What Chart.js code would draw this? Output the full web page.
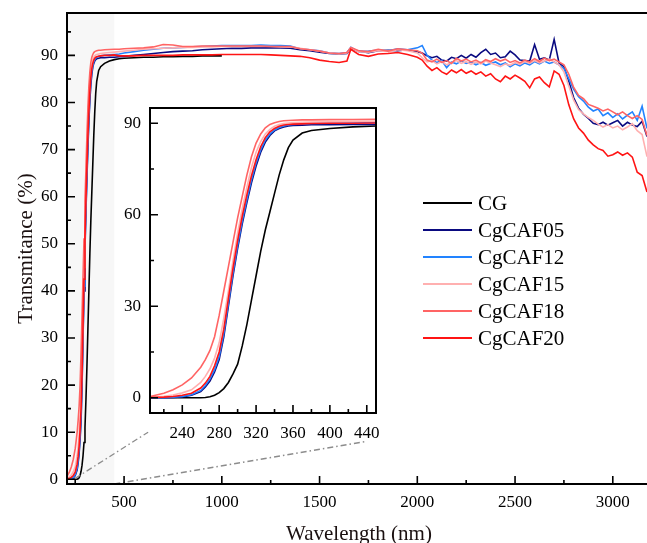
<!DOCTYPE html>
<html>
<head>
<meta charset="utf-8">
<script src="https://cdn.jsdelivr.net/npm/chart.js@4.4.0/dist/chart.umd.min.js"></script>
<style>
  html, body { margin: 0; padding: 0; background: #fff; }
  #wrap { position: relative; width: 647px; height: 543px; overflow: hidden; }
  #main { position: absolute; left: 0; top: 0; }
  #inset { position: absolute; left: 95px; top: 98px; }
</style>
</head>
<body>
<div id="wrap">
  <canvas id="main" width="647" height="543"></canvas>
  <canvas id="inset" width="295" height="352"></canvas>
</div>
<script>
const seriesNames = ['CG', 'CgCAF05', 'CgCAF12', 'CgCAF15', 'CgCAF18', 'CgCAF20'];
const seriesColors = ['#000000', '#0a0a80', '#2283ff', '#ffb0b0', '#ff6464', '#ff1414'];

// UV edge (also shown in the inset)
const uvWavelength = [205, 220, 230, 240, 250, 260, 265, 270, 275, 280, 285, 290, 295, 300, 305, 310,
  315, 320, 325, 330, 335, 340, 345, 350, 355, 360, 370, 380, 400, 425, 450];
const uvCG      = [0, 0, 0, 0, 0, 0, 0.1, 0.3, 0.8, 1.7, 3, 5, 7.8, 11, 17, 24,
  32, 40, 48, 55, 61, 67, 73, 78, 82, 84.5, 86.8, 87.6, 88.3, 88.8, 89.1];
const uvCgCAF05 = [0, 0, 0.1, 0.3, 0.8, 2, 3.5, 5.5, 8.5, 12.5, 20, 30, 40, 49, 57, 64,
  70.5, 76, 80.5, 83.8, 86, 87.5, 88.3, 88.8, 89.1, 89.3, 89.4, 89.5, 89.5, 89.6, 89.6];
const uvCgCAF12 = [0, 0.05, 0.15, 0.4, 1, 2.4, 4, 6.2, 9.2, 13.5, 21, 31, 41, 50, 58, 65,
  71.5, 77, 81.3, 84.5, 86.5, 87.8, 88.6, 89.1, 89.4, 89.6, 89.8, 89.9, 90.0, 90.1, 90.2];
const uvCgCAF15 = [0.2, 0.5, 0.9, 1.6, 2.6, 5, 7, 9.5, 13, 18, 26, 35, 45, 54, 62, 69,
  75.5, 80.5, 84, 86.5, 88, 89, 89.6, 89.9, 90.1, 90.2, 90.3, 90.4, 90.5, 90.6, 90.7];
const uvCgCAF18 = [0.4, 1.5, 2.6, 4.2, 6.5, 10, 12.5, 15.5, 20, 27, 35, 43, 51, 59, 66, 73,
  79, 83.5, 86.5, 88.5, 89.6, 90.2, 90.6, 90.8, 90.9, 91.0, 91.1, 91.1, 91.2, 91.25, 91.3];
const uvCgCAF20 = [0.1, 0.2, 0.4, 0.8, 1.5, 3.2, 4.8, 7, 10.5, 15, 22.5, 32.5, 42.5, 51.5, 59.5, 66.5,
  72.8, 78, 82.3, 85.3, 87.2, 88.3, 89, 89.4, 89.6, 89.7, 89.8, 89.9, 90.0, 90.0, 90.1];

// visible / near infrared
const nirWavelength = [
  475, 500, 550, 600, 650, 700, 750, 800, 850, 900, 950, 1000,
  1050, 1100, 1150, 1200, 1250, 1300, 1350, 1400, 1450, 1500, 1550, 1600,
  1640, 1660,
  1700, 1750, 1800, 1850, 1900, 1950, 2000,
  2025, 2050, 2075, 2100, 2125, 2150, 2175, 2200, 2225, 2250, 2275, 2300,
  2325, 2350, 2375, 2400, 2425, 2450, 2475, 2500, 2525, 2550, 2575, 2600,
  2625, 2650, 2675, 2700, 2725, 2750, 2775, 2800, 2825, 2850, 2875, 2900,
  2925, 2950, 2975, 3000, 3025, 3050, 3075, 3100, 3125, 3150, 3175];
const nirCG = [89.3, 89.4, 89.5, 89.6, 89.6, 89.7, 89.7, 89.8, 89.8, 89.9, 89.9, 89.9];
const nirCgCAF05 = [
  89.7, 89.8, 90.0, 90.2, 90.4, 90.6, 90.8, 90.9, 91.0, 91.2, 91.3, 91.4,
  91.5, 91.5, 91.6, 91.6, 91.6, 91.6, 91.5, 91.2, 91.0, 90.7, 90.4, 90.3,
  90.4, 91.5,
  90.9, 90.6, 91.0, 91.1, 91.0, 91.2, 90.8,
  90.5, 89.9, 89.5, 89.8, 89.0, 88.8, 89.6, 89.3, 90.0, 89.4, 90.2, 89.6,
  90.6, 91.3, 90.2, 90.5, 89.5, 89.7, 90.9, 90.1, 89.0, 88.9, 88.8, 92.3,
  89.2, 89.5, 89.0, 93.4, 88.4, 87.6, 84.5, 81.0, 78.8, 77.5, 76.6, 75.6,
  75.3, 75.8, 75.2, 75.7, 76.2, 75.0, 75.8, 75.2, 74.9, 76.0, 72.8];
const nirCgCAF12 = [
  90.3, 90.5, 90.8, 91.1, 91.3, 91.5, 91.6, 91.7, 91.8, 91.9, 92.0, 92.1,
  92.1, 92.1, 92.1, 92.2, 92.1, 92.1, 92.0, 91.4, 91.2, 91.0, 90.5, 90.4,
  90.6, 91.7,
  90.8, 90.9, 91.1, 91.0, 91.4, 91.2, 91.6,
  92.1, 90.0, 89.0, 88.5, 88.9, 87.4, 88.6, 88.2, 88.8, 88.3, 88.6, 88.0,
  88.5, 87.9, 88.3, 88.6, 88.0, 88.4, 87.6, 88.2, 87.8, 88.4, 88.0, 88.7,
  88.2, 88.8, 88.3, 88.6, 88.0, 87.2, 85.0, 82.8, 81.2, 80.3, 79.0, 78.2,
  78.6, 77.2, 77.8, 76.8, 77.6, 76.5, 77.3, 78.0, 76.2, 79.2, 74.5];
const nirCgCAF15 = [
  90.8, 90.9, 91.1, 91.3, 91.4, 91.5, 91.6, 91.7, 91.7, 91.8, 91.8, 91.9,
  91.9, 91.9, 91.9, 91.9, 91.9, 91.8, 91.8, 91.5, 91.2, 90.9, 90.5, 90.3,
  90.5, 91.6,
  90.8, 90.7, 91.0, 90.8, 91.2, 91.0, 90.5,
  89.5, 88.6, 88.9, 88.2, 88.7, 88.0, 88.5, 88.9, 88.3, 88.7, 88.1, 88.6,
  88.2, 88.8, 88.4, 88.0, 87.6, 88.2, 87.9, 88.5, 88.1, 88.7, 88.3, 88.9,
  88.4, 88.8, 89.2, 88.6, 88.0, 86.5, 83.5, 80.5, 78.5, 77.6, 76.8, 76.2,
  75.4, 74.8, 75.3, 74.6, 75.0, 74.2, 74.8, 75.5, 74.0, 73.2, 68.5];
const nirCgCAF18 = [
  91.3, 91.4, 91.5, 91.6, 91.8, 92.3, 92.2, 91.9, 91.9, 92.0, 92.0, 92.0,
  92.0, 92.0, 92.0, 92.0, 91.9, 91.9, 91.9, 91.4, 91.2, 90.9, 90.5, 90.4,
  90.6, 91.7,
  91.0, 90.8, 91.3, 90.9, 91.4, 91.2, 91.0,
  90.5, 89.0, 88.6, 89.2, 88.5, 88.9, 88.3, 89.4, 88.8, 89.2, 88.6, 89.0,
  88.4, 89.1, 88.7, 89.3, 88.8, 89.2, 88.5, 88.9, 88.4, 89.0, 88.6, 89.3,
  88.7, 89.4, 88.9, 89.2, 88.6, 88.0, 86.0, 83.2, 81.5, 80.8, 79.6, 79.2,
  78.8, 78.2, 78.6, 78.0, 77.4, 78.0, 77.2, 76.6, 77.2, 76.4, 73.0];
const nirCgCAF20 = [
  89.9, 89.9, 89.9, 90.0, 90.0, 90.0, 90.0, 90.1, 90.1, 90.1, 90.1, 90.2,
  90.2, 90.2, 90.2, 90.2, 90.1, 90.0, 89.9, 89.8, 89.5, 89.0, 88.7, 88.5,
  88.8, 91.3,
  90.2, 89.8, 90.3, 90.4, 90.6, 90.2, 89.6,
  89.0, 87.7, 86.8, 87.4, 86.5, 86.0, 86.9, 86.3, 87.0, 86.2, 86.7, 86.0,
  86.5, 85.6, 86.1, 85.0, 84.4, 85.6, 85.0, 85.8, 85.2, 84.5, 83.1, 85.0,
  85.4, 84.2, 83.3, 86.7, 86.0, 83.6, 79.5, 76.5, 74.6, 73.5, 72.0, 71.0,
  70.2, 69.8, 68.6, 68.9, 69.5, 68.8, 69.3, 68.4, 65.2, 64.5, 61.0];

const mainXTicks = [500, 1000, 1500, 2000, 2500, 3000];
const mainXMinor = [250, 750, 1250, 1750, 2250, 2750];
const mainYTicks = [0, 10, 20, 30, 40, 50, 60, 70, 80, 90];
const mainYMinor = [5, 15, 25, 35, 45, 55, 65, 75, 85, 95];
const insetXTicks = [240, 280, 320, 360, 400, 440];
const insetXMinor = [220, 260, 300, 340, 380, 420];
const insetYTicks = [0, 30, 60, 90];
const insetYMinor = [15, 45, 75];

const uvSets = [uvCG, uvCgCAF05, uvCgCAF12, uvCgCAF15, uvCgCAF18, uvCgCAF20];
const nirSets = [nirCG, nirCgCAF05, nirCgCAF12, nirCgCAF15, nirCgCAF18, nirCgCAF20];

const serif = "'Liberation Serif', 'Times New Roman', serif";

function toPoints(wl, vals) {
  return vals.map((v, i) => ({ x: wl[i], y: v }));
}

function makeDatasets(full) {
  return seriesNames.map((name, i) => {
    let pts = toPoints(uvWavelength, uvSets[i]);
    if (full) pts = pts.concat(toPoints(nirWavelength, nirSets[i]));
    return {
      label: name,
      data: pts,
      borderColor: seriesColors[i],
      borderWidth: 1.6,
      pointRadius: 0,
      tension: 0,
      fill: false,
      order: seriesNames.length - i
    };
  });
}

function drawTicks(chart, xMajor, xMinor, yMajor, yMinor, majLen, minLen) {
  const ctx = chart.ctx;
  const a = chart.chartArea;
  const xs = chart.scales.x, ys = chart.scales.y;
  ctx.save();
  ctx.strokeStyle = '#000';
  ctx.lineWidth = 1.6;
  ctx.beginPath();
  xMajor.forEach(v => { const p = xs.getPixelForValue(v); ctx.moveTo(p, a.bottom); ctx.lineTo(p, a.bottom - majLen); });
  xMinor.forEach(v => { const p = xs.getPixelForValue(v); ctx.moveTo(p, a.bottom); ctx.lineTo(p, a.bottom - minLen); });
  yMajor.forEach(v => { const p = ys.getPixelForValue(v); ctx.moveTo(a.left, p); ctx.lineTo(a.left + majLen, p); });
  yMinor.forEach(v => { const p = ys.getPixelForValue(v); ctx.moveTo(a.left, p); ctx.lineTo(a.left + minLen, p); });
  ctx.stroke();
  ctx.restore();
}

const mainDecor = {
  id: 'mainDecor',
  beforeDatasetsDraw(chart) {
    const ctx = chart.ctx, a = chart.chartArea, xs = chart.scales.x;
    // shaded zoom band
    const x0 = Math.max(xs.getPixelForValue(205), a.left), x1 = xs.getPixelForValue(450);
    ctx.save();
    ctx.fillStyle = '#f7f7f7';
    ctx.fillRect(x0, a.top, x1 - x0, a.bottom - a.top);
    ctx.restore();
  },
  afterDatasetsDraw(chart) {
    const ctx = chart.ctx, a = chart.chartArea, xs = chart.scales.x, ys = chart.scales.y;
    // connector lines to the inset
    const links = [[[250, 0.2], [623, 10]], [[450, -1], [1733, 8]]];
    ctx.save();
    ctx.strokeStyle = '#8c8c8c';
    ctx.lineWidth = 1.3;
    ctx.setLineDash([6, 3, 1.5, 3]);
    links.forEach(([p, q]) => {
      ctx.beginPath();
      ctx.moveTo(xs.getPixelForValue(p[0]), ys.getPixelForValue(p[1]));
      ctx.lineTo(xs.getPixelForValue(q[0]), ys.getPixelForValue(q[1]));
      ctx.stroke();
    });
    ctx.setLineDash([]);

    // frame: top, left, bottom
    ctx.strokeStyle = '#000';
    ctx.lineWidth = 2;
    ctx.beginPath();
    ctx.moveTo(a.right, a.top); ctx.lineTo(a.left, a.top); ctx.lineTo(a.left, a.bottom); ctx.lineTo(a.right, a.bottom);
    ctx.stroke();
    ctx.restore();
    drawTicks(chart, mainXTicks, mainXMinor, mainYTicks, mainYMinor, 8, 4);

    // legend
    ctx.save();
    ctx.font = '21px ' + serif;
    ctx.textBaseline = 'middle';
    ctx.fillStyle = '#000';
    seriesNames.forEach((name, i) => {
      const y = 203 + 27 * i;
      ctx.strokeStyle = seriesColors[i];
      ctx.lineWidth = 2;
      ctx.beginPath(); ctx.moveTo(423, y); ctx.lineTo(472, y); ctx.stroke();
      ctx.fillText(name, 478, y + 1);
    });

    // axis titles
    ctx.textAlign = 'center';
    ctx.textBaseline = 'alphabetic';
    ctx.fillStyle = '#1a1010';
    ctx.fillText('Wavelength (nm)', 359, 540);
    ctx.translate(32, (a.top + a.bottom) / 2);
    ctx.rotate(-Math.PI / 2);
    ctx.fillText('Transmitance (%)', 0, 0);
    ctx.restore();
  }
};

const insetDecor = {
  id: 'insetDecor',
  beforeDatasetsDraw(chart) {
    const ctx = chart.ctx, a = chart.chartArea;
    ctx.save();
    ctx.fillStyle = '#fff';
    ctx.fillRect(a.left, a.top, a.right - a.left, a.bottom - a.top);
    ctx.restore();
  },
  afterDatasetsDraw(chart) {
    const ctx = chart.ctx, a = chart.chartArea;
    ctx.save();
    ctx.strokeStyle = '#000';
    ctx.lineWidth = 2;
    ctx.strokeRect(a.left, a.top, a.right - a.left, a.bottom - a.top);
    ctx.restore();
    drawTicks(chart, insetXTicks, insetXMinor, insetYTicks, insetYMinor, 8, 4);
  }
};

function axis(min, max, ticks, pad, fixSize, horizontal) {
  return {
    type: 'linear',
    min: min,
    max: max,
    grid: { display: false, drawTicks: false },
    border: { display: false },
    ticks: {
      font: { family: serif, size: 17 },
      color: '#000',
      padding: pad,
      autoSkip: false,
      maxRotation: 0,
      callback: v => String(v)
    },
    afterBuildTicks: s => { s.ticks = ticks.map(v => ({ value: v })); },
    afterFit: s => {
      if (horizontal) s.height = fixSize; else s.width = fixSize;
      s.paddingTop = 0; s.paddingBottom = 0; s.paddingLeft = 0; s.paddingRight = 0;
    }
  };
}

new Chart(document.getElementById('main'), {
  type: 'line',
  data: { datasets: makeDatasets(true) },
  options: {
    responsive: false,
    animation: false,
    events: [],
    layout: { padding: { top: 13, right: 0, left: 0, bottom: 0 } },
    plugins: { legend: { display: false }, tooltip: { enabled: false } },
    scales: {
      x: axis(208, 3175, mainXTicks, 8, 59, true),
      y: axis(-1, 99, mainYTicks, 9, 67, false)
    }
  },
  plugins: [mainDecor]
});

new Chart(document.getElementById('inset'), {
  type: 'line',
  data: { datasets: makeDatasets(false) },
  options: {
    responsive: false,
    animation: false,
    events: [],
    layout: { padding: { top: 10, right: 14, left: 0, bottom: 0 } },
    plugins: { legend: { display: false }, tooltip: { enabled: false } },
    scales: {
      x: axis(205, 450, insetXTicks, 10, 37, true),
      y: axis(-5, 95, insetYTicks, 9, 55, false)
    }
  },
  plugins: [insetDecor]
});
</script>
</body>
</html>
